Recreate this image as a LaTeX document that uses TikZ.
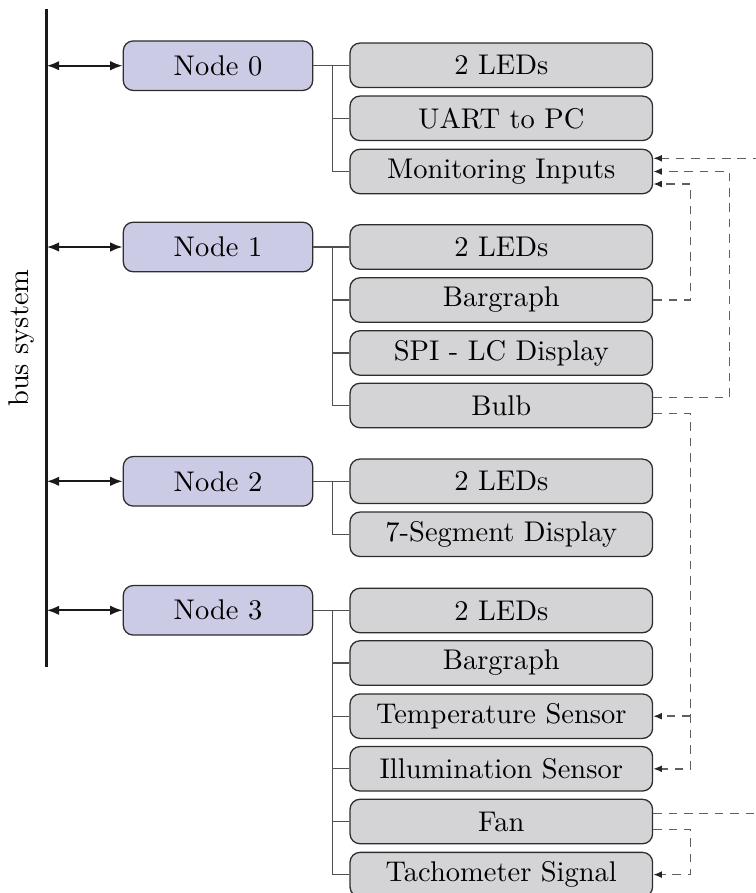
\documentclass[tikz,border=0pt]{standalone}
\usetikzlibrary{arrows.meta,calc}
\definecolor{nodefill}{RGB}{204,203,230}
\definecolor{childfill}{RGB}{212,212,214}
\definecolor{boxedge}{RGB}{45,45,45}
\definecolor{branchcol}{RGB}{80,80,80}
\definecolor{dashcol}{RGB}{95,95,95}
\tikzset{
  mainbox/.style={draw=boxedge, fill=nodefill, rounded corners=3.5pt, line width=0.45pt,
    minimum width=66.5pt, minimum height=17.4pt, inner sep=0pt, font=\normalsize},
  childbox/.style={draw=boxedge, fill=childfill, rounded corners=3.5pt, line width=0.45pt,
    minimum width=106.2pt, minimum height=15.6pt, inner sep=0pt, font=\normalsize},
  branch/.style={draw=branchcol, line width=0.45pt},
  busarrow/.style={line width=0.75pt, draw=black!90, {Latex[length=4.4pt,width=3.4pt]}-{Latex[length=4.4pt,width=3.4pt]}},
  dsh/.style={draw=dashcol, dash pattern=on 3pt off 2.4pt, line width=0.55pt},
  dsharrow/.style={dsh, -{Latex[length=3pt,width=2.4pt,fill=black!85,color=black!85]}},
}
\begin{document}
\begin{tikzpicture}[x=0.351pt, y=-0.351pt]
\useasboundingbox (0,0) rectangle (756,893);
% bus
\coordinate (bustop) at (46.7,9);
\coordinate (busbot) at (46.7,667);
\draw[line width=0.85pt, black!90] (bustop) -- (busbot);
\node[rotate=90] (buslabel) at (21.7,338) {bus system};
% main nodes
\node[mainbox] (n0) at (218,65.7) {Node 0};
\node[mainbox] (n1) at (218,247) {Node 1};
\node[mainbox] (n2) at (218,481.3) {Node 2};
\node[mainbox] (n3) at (218,610.3) {Node 3};
\foreach \n in {n0,n1,n2,n3}{
  \draw[busarrow] (\n.west -| bustop) -- (\n.west);
}
% children
\node[childbox] (c00) at (501.3,65.3) {2 LEDs};
\node[childbox] (c01) at (501.3,118.3) {UART to PC};
\node[childbox] (mon0) at (501.3,171.5) {Monitoring Inputs};
\node[childbox] (c10) at (501.3,247) {2 LEDs};
\node[childbox] (bar1) at (501.3,300) {Bargraph};
\node[childbox] (c12) at (501.3,353) {SPI - LC Display};
\node[childbox] (bulb1) at (501.3,405.5) {Bulb};
\node[childbox] (c20) at (501.3,481.3) {2 LEDs};
\node[childbox] (c21) at (501.3,534.3) {7-Segment Display};
\node[childbox] (c30) at (501.3,610.5) {2 LEDs};
\node[childbox] (c31) at (501.3,663) {Bargraph};
\node[childbox] (tem3) at (501.3,716.2) {Temperature Sensor};
\node[childbox] (ill3) at (501.3,768.8) {Illumination Sensor};
\node[childbox] (fan3) at (501.3,821.5) {Fan};
\node[childbox] (tach3) at (501.3,874.6) {Tachometer Signal};
% branches
\foreach \c in {c00,c01,mon0}{\draw[branch] (n0.east) -- ++(19,0) |- (\c.west);}
\foreach \c in {c10,bar1,c12,bulb1}{\draw[branch] (n1.east) -- ++(19,0) |- (\c.west);}
\foreach \c in {c20,c21}{\draw[branch] (n2.east) -- ++(19,0) |- (\c.west);}
\foreach \c in {c30,c31,tem3,ill3,fan3,tach3}{\draw[branch] (n3.east) -- ++(19,0) |- (\c.west);}
% dashed signal routes
\coordinate (vA) at (690.7,0);
\coordinate (vB) at (729.3,0);
\coordinate (vC) at (772,0);
\coordinate (monA) at ($(mon0.east)+(0,12.5)$);
\coordinate (monC) at ($(mon0.east)+(0,-13.2)$);
\draw[dsharrow] (bar1.east) -- (bar1.east -| vA) |- (monA);
\draw[dsharrow] ($(bulb1.east)+(0,-8)$) -| (vB |- mon0.east) -- (mon0.east);
\draw[dsharrow] ($(bulb1.east)+(0,8)$) -| (vA |- ill3.east) -- (ill3.east);
\draw[dsharrow] (vA |- tem3.east) -- (tem3.east);
\draw[dsharrow] ($(fan3.east)+(0,-8)$) -| (vC |- monC) -- (monC);
\draw[dsharrow] ($(fan3.east)+(0,8)$) -| (vA |- tach3.east) -- (tach3.east);
\end{tikzpicture}
\end{document}
